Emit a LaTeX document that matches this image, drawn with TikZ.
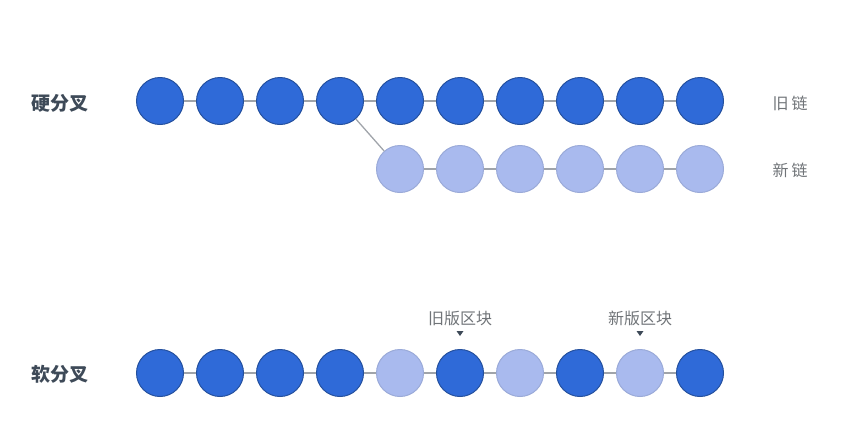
\documentclass[tikz,border=0pt]{standalone}
\usepackage{fontspec}
\newfontfamily\cjk{Noto Sans CJK SC}
\definecolor{oldblk}{HTML}{2F6AD8}
\definecolor{oldedge}{HTML}{24509E}
\definecolor{newblk}{HTML}{A9BAEE}
\definecolor{newedge}{HTML}{9AAAD8}
\definecolor{linkgray}{HTML}{A0A4AA}
\definecolor{titlegray}{HTML}{3E4A58}
\definecolor{textgray}{HTML}{707478}

\begin{document}
\begin{tikzpicture}[x=1pt, y=-1pt,
  blk/.style={circle, minimum size=47pt, inner sep=0pt, line width=1pt},
  old/.style={blk, fill=oldblk, draw=oldedge},
  new/.style={blk, fill=newblk, draw=newedge},
  link/.style={draw=linkgray, line width=1.3pt},
  title/.style={font=\cjk\bfseries\fontsize{19}{19}\selectfont, text=titlegray},
  tag/.style={font=\cjk\fontsize{16}{16}\selectfont, text=textgray}]
  \useasboundingbox (0,0) rectangle (862,437);

  % 硬分叉
  \node[title] (hard) at (60,103) {硬分叉};
  \foreach \i in {1,...,10} {
    \node[old] (h\i) at ({100+60*\i},101) {};
  }
  \foreach \i in {5,...,10} {
    \node[new] (n\i) at ({100+60*\i},169) {};
  }
  \foreach \i [count=\j from 2] in {1,...,9} {
    \draw[link] (h\i) -- (h\j);
  }
  \foreach \i [count=\j from 6] in {5,...,9} {
    \draw[link] (n\i) -- (n\j);
  }
  \draw[link] (h4) -- (n5);
  \node[tag, right] (oldchain) at (769,103) {旧\hspace{3pt}链};
  \node[tag, right] (newchain) at (769,170) {新\hspace{3pt}链};

  % 软分叉
  \node[title] (soft) at (60,374) {软分叉};
  \foreach \i/\t in {1/old,2/old,3/old,4/old,5/new,6/old,7/new,8/old,9/new,10/old} {
    \node[\t] (s\i) at ({100+60*\i},373) {};
  }
  \foreach \i [count=\j from 2] in {1,...,9} {
    \draw[link] (s\i) -- (s\j);
  }

  % 区块标注
  \node[tag] (oldtag) at (460,318) {旧版区块};
  \node[tag] (newtag) at (640,318) {新版区块};
  \foreach \n in {s6,s9} {
    \fill[titlegray] ([yshift=13pt]\n.north) -- ([xshift=-3.5pt,yshift=18pt]\n.north)
      -- ([xshift=3.5pt,yshift=18pt]\n.north) -- cycle;
  }
\end{tikzpicture}
\end{document}
